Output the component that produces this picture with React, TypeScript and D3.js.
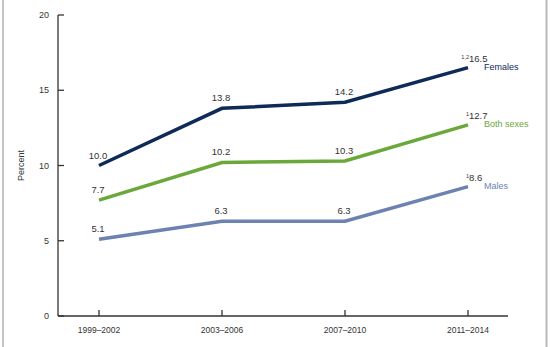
import React from "react";
import * as d3 from "d3";

const periods = ["1999–2002", "2003–2006", "2007–2010", "2011–2014"];
const females = [10.0, 13.8, 14.2, 16.5];
const bothSexes = [7.7, 10.2, 10.3, 12.7];
const males = [5.1, 6.3, 6.3, 8.6];
const yTicks = [0, 5, 10, 15, 20];
const seriesNames = ["Females", "Both sexes", "Males"];
const seriesColors = ["#0e2a57", "#6aa83a", "#6d82b0"];
const lastNotes = ["1,2", "1", "1"];

const W = 550;
const H = 347;

export default function App() {
  const x = d3.scalePoint<string>().domain(periods).range([99, 468]);
  const y = d3.scaleLinear().domain([0, 20]).range([316, 15]);
  const line = d3
    .line<number>()
    .x((_, i) => x(periods[i]) as number)
    .y((d) => y(d));
  const all = [females, bothSexes, males];
  const font = "Liberation Sans, Arial, sans-serif";

  return (
    <svg
      width={W}
      height={H}
      style={{ position: "absolute", left: 0, top: 0, background: "#fff" }}
      fontFamily={font}
    >
      <rect x={0} y={0} width={W} height={H} fill="#fff" />
      <line x1={3} x2={3} y1={0} y2={H} stroke="#c4c4c4" strokeWidth={2} />
      <line x1={546.5} x2={546.5} y1={0} y2={H} stroke="#b8b8b8" strokeWidth={2} />

      {/* axes */}
      <line x1={58} x2={58} y1={y(20)} y2={y(0)} stroke="#333" strokeWidth={1.3} />
      <line x1={58} x2={508} y1={y(0)} y2={y(0)} stroke="#333" strokeWidth={1.3} />
      {yTicks.map((t) => (
        <g key={t}>
          <line x1={58} x2={64} y1={y(t)} y2={y(t)} stroke="#333" strokeWidth={1.3} />
          <text x={49} y={y(t) + 3} textAnchor="end" fontSize={9} fill="#333">
            {t}
          </text>
        </g>
      ))}
      {periods.map((p) => (
        <g key={p}>
          <line x1={x(p)} x2={x(p)} y1={y(0)} y2={y(0) - 6} stroke="#333" strokeWidth={1.3} />
          <text x={x(p)} y={333} textAnchor="middle" fontSize={8.5} fill="#333">
            {p}
          </text>
        </g>
      ))}
      <text
        transform={`translate(24,${y(10)}) rotate(-90)`}
        textAnchor="middle"
        fontSize={9}
        fill="#333"
      >
        Percent
      </text>

      {all.map((s, si) => (
        <g key={si}>
          <path d={line(s) || ""} fill="none" stroke={seriesColors[si]} strokeWidth={3.5} />
          {s.map((v, i) => {
            const px = x(periods[i]) as number;
            const py = y(v);
            if (i === s.length - 1) {
              return (
                <g key={i}>
                  <text x={px + 1} y={py - 9} fontSize={5.5} fill="#333" textAnchor="end">
                    {lastNotes[si]}
                  </text>
                  <text x={px + 1} y={py - 6} fontSize={9.5} fill="#333">
                    {v.toFixed(1)}
                  </text>
                  <text x={484} y={py + 2} fontSize={9} fill={seriesColors[si]}>
                    {seriesNames[si]}
                  </text>
                </g>
              );
            }
            return (
              <text key={i} x={px - 1} y={py - 7} fontSize={9.5} textAnchor="middle" fill="#333">
                {v.toFixed(1)}
              </text>
            );
          })}
        </g>
      ))}
    </svg>
  );
}
